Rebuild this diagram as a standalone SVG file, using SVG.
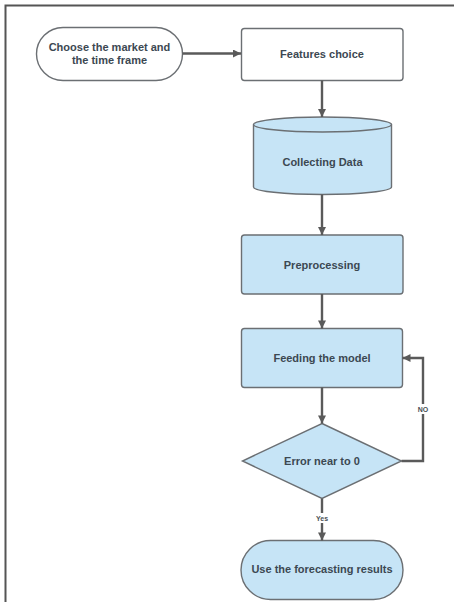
<svg xmlns="http://www.w3.org/2000/svg" width="454" height="602" viewBox="0 0 454 602">
<defs>
<style>
.frame{stroke:#555;stroke-width:2;fill:none}
.node{stroke:#6b6f73;stroke-width:1.4}
.white{fill:#ffffff}
.blue{fill:#c6e4f6}
.txt{font-family:"Liberation Sans",Arial,sans-serif;font-weight:bold;font-size:11px;fill:#3c4852;text-anchor:middle;dominant-baseline:central}
.lbl{font-family:"Liberation Sans",Arial,sans-serif;font-weight:bold;font-size:7px;fill:#4a4f55;text-anchor:middle;dominant-baseline:central}
.conn{stroke:#5a5a5a;stroke-width:2.4;fill:none}
</style>
<marker id="arr" viewBox="0 0 10 10" refX="10" refY="5" markerWidth="10" markerHeight="8" markerUnits="userSpaceOnUse" orient="auto">
<path d="M0,0 L10,5 L0,10 z" fill="#5a5a5a"/>
</marker>
</defs>
<rect width="454" height="602" fill="#ffffff"/>
<path class="frame" d="M5.5,602 L5.5,5.5 L454,5.5"/>

<g id="node-start">
<rect class="node white" x="36.5" y="27.5" width="146" height="53" rx="26.5"/>
<text class="txt" x="109.5" y="46.5">Choose the market and</text>
<text class="txt" x="109.5" y="60">the time frame</text>
</g>
<g id="node-features">
<rect class="node white" x="241.5" y="28.5" width="161.5" height="52" rx="3"/>
<text class="txt" x="322" y="54">Features choice</text>
</g>
<g id="node-collect">
<path class="node blue" d="M253.5,124.5 L253.5,187 A69,7.5 0 0 0 391.5,187 L391.5,124.5 A69,7.5 0 0 0 253.5,124.5 Z"/>
<path class="node" fill="none" d="M253.5,124.5 A69,7.5 0 0 0 391.5,124.5"/>
<text class="txt" x="322.5" y="162">Collecting Data</text>
</g>
<g id="node-preprocess">
<rect class="node blue" x="241.5" y="235" width="161.5" height="59" rx="3"/>
<text class="txt" x="322" y="264.5">Preprocessing</text>
</g>
<g id="node-feeding">
<rect class="node blue" x="241.5" y="328.5" width="161" height="59" rx="3"/>
<text class="txt" x="322" y="358">Feeding the model</text>
</g>
<g id="node-error">
<polygon class="node blue" points="322,423.5 401.5,461 322,498.5 242.5,461"/>
<text class="txt" x="322" y="461">Error near to 0</text>
</g>
<g id="node-use">
<rect class="node blue" x="241" y="540.5" width="162" height="59" rx="29.5"/>
<text class="txt" x="322" y="569">Use the forecasting results</text>
</g>

<g id="connectors">
<path class="conn" d="M182.5,53.5 L241,53.5" marker-end="url(#arr)"/>
<path class="conn" d="M322,80.5 L322,117" marker-end="url(#arr)"/>
<path class="conn" d="M322,194.5 L322,235" marker-end="url(#arr)"/>
<path class="conn" d="M322,294 L322,328.5" marker-end="url(#arr)"/>
<path class="conn" d="M322,387.5 L322,423.5" marker-end="url(#arr)"/>
<path class="conn" d="M322,498.5 L322,540.5" marker-end="url(#arr)"/>
<path class="conn" d="M401.5,461 L423,461 L423,358 L402.5,358" marker-end="url(#arr)"/>
<rect x="415" y="404" width="16" height="10" fill="#ffffff"/>
<text class="lbl" x="423" y="409">NO</text>
<rect x="313" y="513" width="18" height="10" fill="#ffffff"/>
<text class="lbl" x="322" y="518">Yes</text>
</g>
</svg>
